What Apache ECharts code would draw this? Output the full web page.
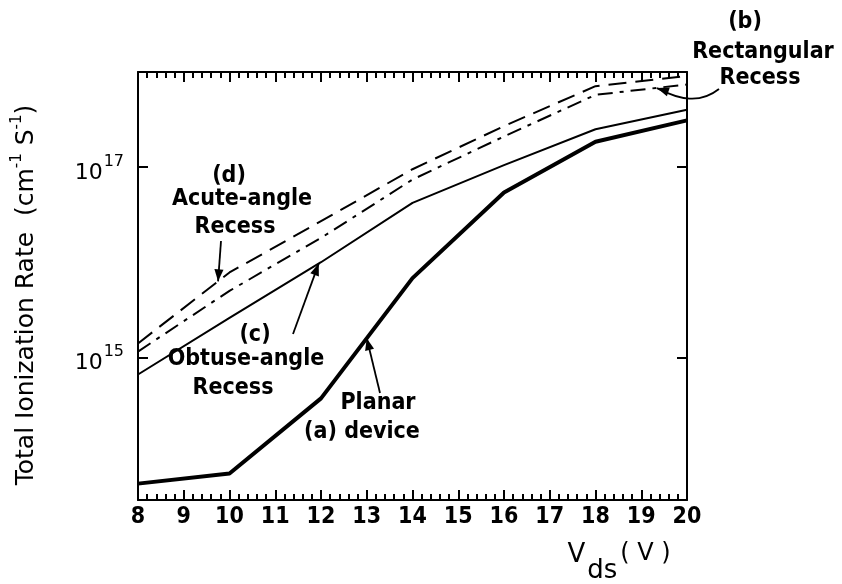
<!DOCTYPE html>
<html>
<head>
<meta charset="utf-8">
<script src="https://cdn.jsdelivr.net/npm/echarts@6/dist/echarts.min.js"></script>
<style>
  html, body { margin: 0; padding: 0; background: #fff; }
  #chart { width: 842px; height: 584px; }
</style>
</head>
<body>
<div id="chart"></div>
<script>
// Drain voltage (V) at which each curve was sampled
const vds = [8, 10, 12, 14, 16, 18, 20];

// Total ionization rate (cm^-1 s^-1) for each device structure
const planar      = [4.7e13, 6.0e13, 3.7e14, 6.8e15, 5.4e16, 1.85e17, 3.1e17]; // (a)
const obtuse      = [6.6e14, 2.6e15, 1.0e16, 4.2e16, 1.05e17, 2.5e17, 4.0e17]; // (c)
const acute       = [1.4e15, 7.8e15, 2.7e16, 9.5e16, 2.7e17, 7.1e17, 9.1e17];  // (d)
const rectangular = [1.15e15, 5.0e15, 1.8e16, 7.4e16, 2.1e17, 5.75e17, 7.4e17]; // (b)

// Labelled decades on the rate axis
const rateTicks = [1e15, 1e17];
const rateMin = Math.pow(10, 13.5);
const rateMax = 1e18;

const plotFont = '"DejaVu Sans Condensed", "Liberation Sans Narrow", "DejaVu Sans", sans-serif';

function pairs(ys) { return vds.map((v, i) => [v, ys[i]]); }

const chart = echarts.init(document.getElementById('chart'), null, { renderer: 'canvas' });

const xCommon = {
  type: 'value', min: 8, max: 20, interval: 1,
  axisLine: { show: true, lineStyle: { color: '#000', width: 2 } },
  axisTick: { show: true, inside: true, length: 10, lineStyle: { color: '#000', width: 2 } },
  minorTick: { show: true, splitNumber: 5, length: 6, lineStyle: { color: '#000', width: 2 } },
  splitLine: { show: false }, minorSplitLine: { show: false }
};

const yCommon = {
  type: 'log', logBase: 10, min: rateMin, max: rateMax,
  axisLine: { show: true, lineStyle: { color: '#000', width: 2 } },
  axisTick: { show: true, inside: true, length: 10, customValues: rateTicks, lineStyle: { color: '#000', width: 2 } },
  splitLine: { show: false }, minorTick: { show: false }
};

function curve(name, ys, width, type) {
  return {
    name, type: 'line', data: pairs(ys), symbol: 'none', silent: true,
    lineStyle: { color: '#000', width, type, cap: 'butt', join: 'round' }
  };
}

chart.setOption({
  animation: false,
  backgroundColor: '#fff',
  grid: { left: 138, right: 155, top: 72, bottom: 84, containLabel: false },
  xAxis: [
    Object.assign({}, xCommon, {
      position: 'bottom',
      axisLabel: { show: true, margin: 6, color: '#000', fontFamily: plotFont, fontWeight: 'bold', fontSize: 23 }
    }),
    Object.assign({}, xCommon, { position: 'top', axisLabel: { show: false } })
  ],
  yAxis: [
    Object.assign({}, yCommon, {
      position: 'left',
      axisLabel: {
        show: true, customValues: rateTicks, margin: 14, color: '#000',
        formatter: v => '{b|10}{s|' + Math.round(Math.log10(v)) + '}',
        rich: {
          b: { fontFamily: 'DejaVu Sans', fontSize: 22, color: '#000', padding: [12, 0, 0, 0] },
          s: { fontFamily: 'DejaVu Sans', fontSize: 16, color: '#000', padding: [0, 0, 10, 1] }
        }
      }
    }),
    Object.assign({}, yCommon, { position: 'right', axisLabel: { show: false } })
  ],
  series: [
    curve('(a) Planar device', planar, 4, 'solid'),
    curve('(c) Obtuse-angle Recess', obtuse, 2, 'solid'),
    curve('(d) Acute-angle Recess', acute, 2, [18, 9]),
    curve('(b) Rectangular Recess', rectangular, 2, [15, 7, 4, 7])
  ]
});

// Point on a curve at a given Vds (interpolated in log space), in pixels
function onCurve(ys, v) {
  let i = 0;
  while (i < vds.length - 2 && v > vds[i + 1]) i++;
  const t = (v - vds[i]) / (vds[i + 1] - vds[i]);
  const ly = Math.log10(ys[i]) + t * (Math.log10(ys[i + 1]) - Math.log10(ys[i]));
  return chart.convertToPixel({ xAxisIndex: 0, yAxisIndex: 0 }, [v, Math.pow(10, ly)]);
}

function arrowHead(tip, from, size) {
  const dx = tip[0] - from[0], dy = tip[1] - from[1];
  const len = Math.hypot(dx, dy) || 1;
  const ux = dx / len, uy = dy / len;
  const bx = tip[0] - ux * size, by = tip[1] - uy * size;
  const w = size * 0.38;
  return {
    type: 'polygon', silent: true,
    shape: { points: [tip, [bx - uy * w, by + ux * w], [bx + uy * w, by - ux * w]] },
    style: { fill: '#000' }
  };
}

function arrow(from, tip) {
  return [
    { type: 'line', silent: true, shape: { x1: from[0], y1: from[1], x2: tip[0], y2: tip[1] },
      style: { stroke: '#000', lineWidth: 1.8 } },
    arrowHead(tip, from, 12)
  ];
}

function label(text, x, y, size) {
  return {
    type: 'text', silent: true, x, y,
    style: { text, fill: '#000', font: 'bold ' + (size || 23) + 'px ' + plotFont, align: 'center', verticalAlign: 'middle' }
  };
}

const tipD = onCurve(acute, 9.75);
const tipC = onCurve(obtuse, 11.95);
const tipA = onCurve(planar, 13.0);
const tipB = onCurve(rectangular, 19.3);

const bStart = [719, 89];
const bTip = [tipB[0] + 2, tipB[1]];

chart.setOption({
  graphic: [
    // rate axis title
    {
      type: 'text', silent: true, x: 22, y: 295, rotation: Math.PI / 2,
      style: {
        text: '{t|Total Ionization Rate  (cm}{u|-1}{t| S}{u|-1}{t|)}',
        align: 'center', verticalAlign: 'middle',
        rich: {
          t: { fontFamily: 'DejaVu Sans', fontSize: 25, fill: '#000', padding: [9, 0, 0, 0] },
          u: { fontFamily: 'DejaVu Sans', fontSize: 15, fill: '#000', padding: [0, 0, 10, 0] }
        }
      }
    },
    // Vds axis title
    {
      type: 'text', silent: true, x: 619, y: 561,
      style: {
        text: '{v|V}{d|ds}{p|( V )}',
        align: 'center', verticalAlign: 'middle',
        rich: {
          v: { fontFamily: 'DejaVu Sans', fontSize: 26, fill: '#000', padding: [0, 2, 12, 0] },
          d: { fontFamily: 'DejaVu Sans', fontSize: 26, fill: '#000', padding: [20, 0, 0, 0] },
          p: { fontFamily: 'DejaVu Sans', fontSize: 24, fill: '#000', padding: [0, 0, 14, 3] }
        }
      }
    },
    label('(d)', 229, 176),
    label('Acute-angle', 242, 199),
    label('Recess', 235, 227),
    ...arrow([221, 241], tipD),
    label('(c)', 255, 335),
    label('Obtuse-angle', 246, 359),
    label('Recess', 233, 388),
    ...arrow([293, 334], tipC),
    label('Planar', 378, 403),
    label('(a) device', 362, 432),
    ...arrow([380, 393], tipA),
    label('(b)', 745, 22),
    label('Rectangular', 763, 52),
    label('Recess', 760, 78),
    {
      type: 'bezierCurve', silent: true,
      shape: { x1: bStart[0], y1: bStart[1], x2: bTip[0], y2: bTip[1], cpx1: 700, cpy1: 104, cpx2: 680, cpy2: 100 },
      style: { stroke: '#000', lineWidth: 1.8, fill: null }
    },
    arrowHead(bTip, [bTip[0] + 12, bTip[1] + 4], 12)
  ]
});
</script>
</body>
</html>
